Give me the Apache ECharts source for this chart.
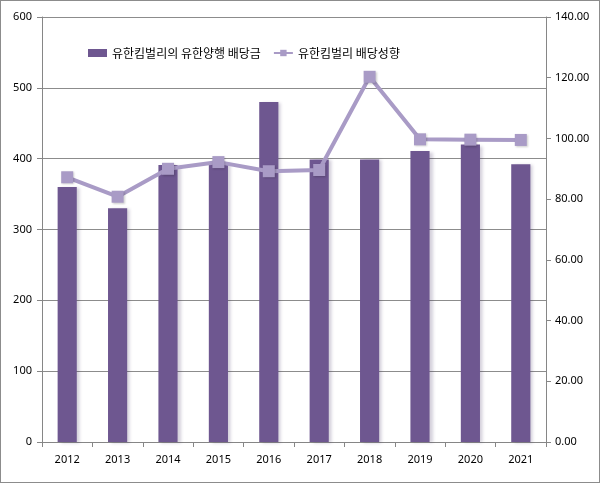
<!DOCTYPE html>
<html>
<head>
<meta charset="utf-8">
<script src="https://cdn.jsdelivr.net/npm/echarts@6/dist/echarts.min.js"></script>
<style>
  html, body { margin: 0; padding: 0; background: #fff; }
  #chart { width: 598px; height: 481px; border: 1px solid #8c8c8c; }
</style>
</head>
<body>
<div id="chart"></div>
<script>
// 연도
const years = ['2012', '2013', '2014', '2015', '2016', '2017', '2018', '2019', '2020', '2021']
// 유한양행 배당금 (좌축)
const dividend = [360, 330, 391, 395, 480, 399, 399, 411, 420, 392]
// 배당성향 (우축)
const payoutRatio = [87.2, 80.8, 90.0, 92.2, 89.2, 89.6, 120.3, 99.7, 99.6, 99.5]

const barName = '유한킴벌리의 유한양행 배당금'
const lineName = '유한킴벌리 배당성향'

const chart = echarts.init(document.getElementById('chart'))

const axisColor = '#868686'
const labelStyle = { color: '#000', fontSize: 11, fontFamily: 'Noto Sans, sans-serif' }

chart.setOption({
    animation: false,
    textStyle: { fontFamily: 'Noto Sans CJK KR, sans-serif' },
    legend: {
        top: 41,
        left: 82,
        itemGap: 12,
        itemWidth: 19,
        itemHeight: 8,
        textStyle: { color: '#000', fontSize: 12, fontFamily: 'Noto Sans CJK KR' },
        data: [
            { name: barName, icon: 'rect', itemStyle: { shadowBlur: 0, shadowOffsetX: 0, shadowOffsetY: 0 } },
            { name: lineName }
        ]
    },
    grid: { left: 41, right: 53, top: 16, bottom: 40 },
    xAxis: {
        type: 'category',
        data: years,
        axisLine: { lineStyle: { color: axisColor } },
        axisTick: { show: true, length: 5, lineStyle: { color: axisColor } },
        axisLabel: { ...labelStyle, margin: 12 }
    },
    yAxis: [{
        type: 'value',
        min: 0,
        max: 600,
        interval: 100,
        axisLine: { show: true, lineStyle: { color: axisColor } },
        axisTick: { show: true, length: 5, lineStyle: { color: axisColor } },
        axisLabel: { ...labelStyle, margin: 10 },
        splitLine: { lineStyle: { color: '#8c8c8c' } }
    }, {
        type: 'value',
        min: 0,
        max: 140,
        interval: 20,
        position: 'right',
        axisLine: { show: true, lineStyle: { color: axisColor } },
        axisTick: { show: true, length: 5, lineStyle: { color: axisColor } },
        axisLabel: { ...labelStyle, margin: 9, formatter: v => v.toFixed(2) },
        splitLine: { show: false }
    }],
    series: [{
        name: barName,
        type: 'bar',
        data: dividend,
        barWidth: '38%',
        itemStyle: {
            color: '#6e5790',
            shadowColor: 'rgba(60,40,90,0.22)',
            shadowBlur: 3,
            shadowOffsetX: 3,
            shadowOffsetY: 1
        }
    }, {
        name: lineName,
        type: 'line',
        yAxisIndex: 1,
        data: payoutRatio,
        symbol: 'rect',
        symbolSize: 12,
        lineStyle: { color: '#a99bc6', width: 4 },
        itemStyle: {
            color: '#a99bc6',
            shadowColor: 'rgba(0,0,0,0.2)',
            shadowBlur: 2,
            shadowOffsetX: 1,
            shadowOffsetY: 1
        }
    }]
})
</script>
</body>
</html>
